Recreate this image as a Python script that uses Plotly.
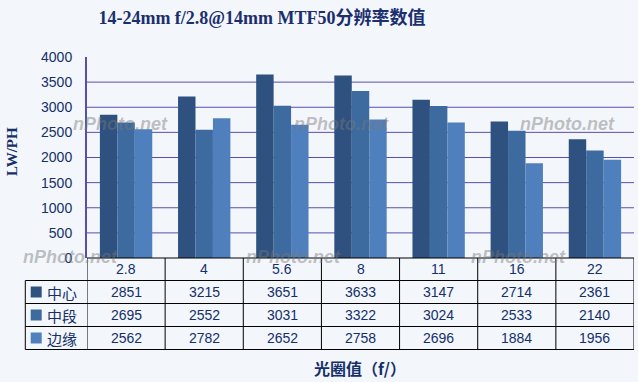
import plotly.graph_objects as go

categories = ["2.8", "4", "5.6", "8", "11", "16", "22"]
series_names = ["中心", "中段", "边缘"]
center_vals = [2851, 3215, 3651, 3633, 3147, 2714, 2361]
middle_vals = [2695, 2552, 3031, 3322, 3024, 2533, 2140]
edge_vals = [2562, 2782, 2652, 2758, 2696, 1884, 1956]
series_vals = [center_vals, middle_vals, edge_vals]
colors = ["#2f5180", "#3d6a9f", "#4f80bd"]
y_ticks = [0, 500, 1000, 1500, 2000, 2500, 3000, 3500, 4000]

W, H = 638, 382
ML, MR, MT, MB = 87, 4, 57, 124
PW, PH = W - ML - MR, H - MT - MB
BG = "#f3f6fb"
NAVY = "#14306a"
GRID = "#5650ad"

def px(xp):
    return (xp - ML) / PW

def py(yp):
    return (H - MB - yp) / PH

fig = go.Figure()
for name, vals, c in zip(series_names, series_vals, colors):
    fig.add_trace(go.Bar(x=categories, y=vals, name=name, marker=dict(color=c, line=dict(width=0))))

shapes = []
annotations = []

# gridlines (not at top)
for t in y_ticks[1:-1]:
    shapes.append(dict(type="line", xref="paper", yref="y", x0=0, x1=1, y0=t, y1=t,
                       line=dict(color=GRID, width=1), layer="below"))

# table geometry (pixels)
row_edges = [258, 280.5, 303.5, 326.5, 349.5]
left_x = 25.3
n = len(categories)
shapes.append(dict(type="line", xref="paper", yref="paper", x0=0, x1=1, y0=py(row_edges[0]), y1=py(row_edges[0]),
                   line=dict(color="black", width=1)))
for ye in row_edges[1:]:
    shapes.append(dict(type="line", xref="paper", yref="paper", x0=px(left_x), x1=1, y0=py(ye), y1=py(ye),
                       line=dict(color="black", width=1)))
for i in range(n + 1):
    shapes.append(dict(type="line", xref="x", yref="paper", x0=i - 0.5, x1=i - 0.5,
                       y0=py(row_edges[0]), y1=py(row_edges[-1]), line=dict(color="black", width=1)))
shapes.append(dict(type="line", xref="paper", yref="paper", x0=px(left_x), x1=px(left_x),
                   y0=py(row_edges[1]), y1=py(row_edges[-1]), line=dict(color="black", width=1)))

cell_font = dict(family="Liberation Sans, Noto Sans CJK SC", size=14, color=NAVY)
hdr_y = (row_edges[0] + row_edges[1]) / 2
for i, cat in enumerate(categories):
    annotations.append(dict(x=i, y=py(hdr_y), xref="x", yref="paper", text=cat, showarrow=False,
                            font=cell_font, xanchor="center", yanchor="middle"))
for r, (name, vals, c) in enumerate(zip(series_names, series_vals, colors)):
    yc = (row_edges[r + 1] + row_edges[r + 2]) / 2
    for i, v in enumerate(vals):
        annotations.append(dict(x=i, y=py(yc), xref="x", yref="paper", text=str(v), showarrow=False,
                                font=cell_font, xanchor="center", yanchor="middle"))
    shapes.append(dict(type="rect", xref="paper", yref="paper", x0=px(30.7), x1=px(41.7),
                       y0=py(yc + 5.5), y1=py(yc - 5.5), fillcolor=c, line=dict(width=0)))
    annotations.append(dict(x=px(45), y=py(yc), xref="paper", yref="paper", text=name, showarrow=False,
                            font=dict(family="Noto Sans CJK SC", size=15, color=NAVY),
                            xanchor="left", yanchor="middle"))

# axis titles
annotations.append(dict(x=px(12), y=py(152), xref="paper", yref="paper", text="<b>LW/PH</b>", showarrow=False,
                        textangle=-90, font=dict(family="Liberation Serif", size=15, color=NAVY),
                        xanchor="center", yanchor="middle"))
annotations.append(dict(x=px(360), y=py(368), xref="paper", yref="paper", text="<b>光圈值（f/）</b>", showarrow=False,
                        font=dict(family="Noto Sans CJK SC", size=16, color=NAVY),
                        xanchor="center", yanchor="middle"))

# watermarks
for (wx, wy) in [(120, 124), (341, 124), (567, 124), (70, 257), (293, 257), (518, 257)]:
    annotations.append(dict(x=px(wx), y=py(wy), xref="paper", yref="paper", text="nPhoto.net", showarrow=False,
                            font=dict(family="Liberation Sans", size=18, color="rgba(120,120,120,0.45)",
                                      weight="bold", style="italic"),
                            xanchor="center", yanchor="middle"))

fig.update_layout(
    width=W, height=H,
    margin=dict(l=ML, r=MR, t=MT, b=MB),
    paper_bgcolor=BG, plot_bgcolor=BG,
    barmode="group", bargap=0.33, bargroupgap=0,
    showlegend=False,
    title=dict(text="<b>14-24mm f/2.8@14mm MTF50分辨率数值</b>", x=262 / W, xanchor="center", xref="container",
               y=1 - 18 / H, yanchor="middle", yref="container",
               font=dict(family="Liberation Serif, Noto Sans CJK SC", size=18, color="#1b2f6e")),
    xaxis=dict(type="category", range=[-0.5, n - 0.5], showticklabels=False, showgrid=False,
               zeroline=False, showline=False, ticks=""),
    yaxis=dict(range=[0, 4000], tickvals=y_ticks, showgrid=False, zeroline=False,
               showline=True, linecolor=GRID, linewidth=2,
               ticks="outside", ticklen=10, tickcolor="rgba(0,0,0,0)",
               tickfont=dict(family="Liberation Sans", size=14, color=NAVY)),
    shapes=shapes,
    annotations=annotations,
)

fig.write_html("out.html")
